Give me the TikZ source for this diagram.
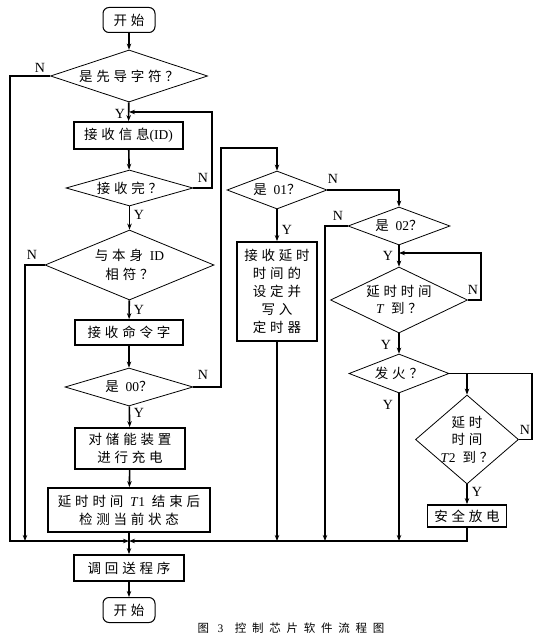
\documentclass[tikz,border=0pt]{standalone}
\usepackage{fontspec}
\setmainfont{Liberation Serif}
\newfontfamily\cjk{Noto Sans CJK SC}[LetterSpace=28]
\newfontfamily\capcjk{Noto Sans CJK SC}[LetterSpace=50]
\usetikzlibrary{arrows.meta, shapes.geometric}
\newcommand{\la}[1]{{\rmfamily #1}}
\tikzset{
  term/.style={rectangle, rounded corners=6pt, draw, line width=1pt, inner sep=0pt,
    minimum width=52pt, minimum height=25pt, font=\cjk\fontsize{13.5}{18}\selectfont},
  proc/.style={rectangle, draw, line width=1.8pt, inner sep=0pt, align=center,
    font=\cjk\fontsize{13.5}{18}\selectfont},
  dec/.style={diamond, draw, line width=0.8pt, inner sep=0pt, align=center,
    font=\cjk\fontsize{13.5}{19}\selectfont},
  lab/.style={font=\rmfamily\fontsize{14}{14}\selectfont, inner sep=0pt},
  line/.style={line width=1.6pt},
  arrow/.style={line, -{Stealth[length=6pt, width=4.5pt]}},
}
\begin{document}
\begin{tikzpicture}[x=1pt, y=-1pt]
\useasboundingbox (0,0) rectangle (559,639);
% main column
\node[term] (start) at (129,20) {开始};
\node[dec, aspect=3.02, minimum width=157pt, minimum height=52pt] (lead) at (129,76) {是先导字符？};
\node[proc, minimum width=109pt, minimum height=27pt] (recv) at (128.5,135.5) {接收信息\la{(ID)}};
\node[dec, aspect=3.53, minimum width=127pt, minimum height=36pt] (done) at (129.5,188) {接收完？};
\node[dec, aspect=2.41, minimum width=169pt, minimum height=70pt] (idok) at (129.5,265) {与本身 \la{ID}\\相符？};
\node[proc, minimum width=108pt, minimum height=25pt] (cmd) at (129,332.5) {接收命令字};
\node[dec, aspect=3.37, minimum width=128pt, minimum height=38pt] (isA) at (129,387) {是 \la{00}？};
\node[proc, minimum width=110pt, minimum height=41pt] (charge) at (130,448.5) {对储能装置\\进行充电};
\node[proc, minimum width=162pt, minimum height=44pt] (check) at (129,510) {延时时间 \la{\textit{T}1} 结束后\\检测当前状态};
\node[proc, minimum width=110pt, minimum height=26pt] (back) at (129,568) {调回送程序};
\node[term] (stop) at (129,610) {开始};
% right side
\node[dec, aspect=2.63, minimum width=100pt, minimum height=38pt] (isB) at (277,190) {是 \la{01}？};
\node[proc, minimum width=80pt, minimum height=99pt] (setT) at (277,291.5) {接收延时\\时间的\\设定并\\写入\\定时器};
\node[dec, aspect=2.68, minimum width=102pt, minimum height=38pt] (isC) at (399,226) {是 \la{02}？};
\node[dec, aspect=2.08, minimum width=137pt, minimum height=66pt, inner sep=-2pt,
  font=\cjk\fontsize{13.5}{17}\selectfont] (waitT) at (399,300) {延时时间\\\la{\textit{T}} 到？};
\node[dec, aspect=2.56, minimum width=100pt, minimum height=39pt] (fire) at (399,373.5) {发火？};
\node[dec, aspect=1.16, minimum width=103pt, minimum height=89pt, inner sep=-4pt,
  font=\cjk\fontsize{13.5}{17.5}\selectfont] (waitTT) at (467,439.5) {延时\\时间\\\la{\textit{T}2} 到？};
\node[proc, minimum width=79pt, minimum height=22pt] (safe) at (467,516) {安全放电};
\node[font=\capcjk\fontsize{11.5}{12}\selectfont] (cap) at (291,628) {图 \la{3}\quad 控制芯片软件流程图};

\coordinate (join) at (129,541);
\coordinate (loopA) at (129,112);
\coordinate (loopB) at (399,253);

% labels
\node[lab] (nA) at (40,68) {N};
\node[lab] (yA) at (120,114) {Y};
\node[lab] (nB) at (203,178) {N};
\node[lab] (yB) at (139,215) {Y};
\node[lab] (nC) at (32,255) {N};
\node[lab] (yC) at (139,310) {Y};
\node[lab] (nD) at (203,375) {N};
\node[lab] (yD) at (139,413) {Y};
\node[lab] (nE) at (333,179) {N};
\node[lab] (yE) at (287,230) {Y};
\node[lab] (nF) at (338,216) {N};
\node[lab] (yF) at (388,256) {Y};
\node[lab] (nG) at (473,290) {N};
\node[lab] (yG) at (386,345) {Y};
\node[lab] (yH) at (388,405) {Y};
\node[lab] (nH) at (525,430) {N};
\node[lab] (yI) at (477,492) {Y};

% connectors
\draw[arrow] (start)--(lead);
\draw[arrow] (lead)--(recv);
\draw[arrow] (recv)--(done);
\draw[arrow] (done.east) -| (212,112) -- (loopA);
\draw[arrow] (done)--(idok);
\draw[arrow] (idok)--(cmd);
\draw[arrow] (cmd)--(isA);
\draw[arrow] (isA)--(charge);
\draw[arrow] (charge)--(check);
\draw[line] (check)--(join);
\draw[arrow] (join)--(back);
\draw[arrow] (back)--(stop);
\draw[arrow] (lead.west) -| (10,541) -- (join);
\draw[arrow] (idok.west) -| (25,541);
\draw[arrow] (isA.east) -| (221,148) -| (isB.north);
\draw[arrow] (isB)--(setT);
\draw[arrow] (setT.south) -- (277,541);
\draw[arrow] (isB.east) -| (isC.north);
\draw[arrow] (isC.west) -| (325,541);
\draw[arrow] (isC)--(waitT);
\draw[arrow] (waitT.east) -| (481,253) -- (loopB);
\draw[arrow] (waitT)--(fire);
\draw[arrow] (fire.south) -- (399,541);
\draw[line] (fire.east) -- (532,373.5) |- (waitTT.east);
\draw[arrow] (waitTT.north |- fire.east) -- (waitTT.north);
\draw[arrow] (waitTT)--(safe);
\draw[arrow] (safe.south) |- (join);
\end{tikzpicture}
\end{document}
